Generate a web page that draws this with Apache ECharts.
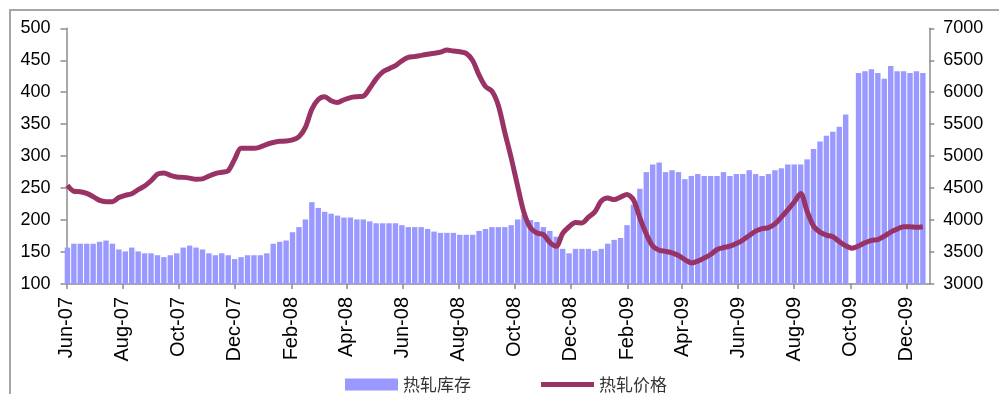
<!DOCTYPE html>
<html>
<head>
<meta charset="utf-8">
<script src="https://cdn.jsdelivr.net/npm/echarts@6/dist/echarts.min.js"></script>
<style>
  html, body { margin: 0; padding: 0; background: #fff; }
  #chart { width: 999px; height: 394px; }
</style>
</head>
<body>
<div id="chart"></div>
<script>
// Weekly hot-rolled steel inventory (left axis) and price (right axis), Jun 2007 - Dec 2009
const firstWeek = Date.UTC(2007, 5, 2);
const DAY = 86400000;

// 热轧库存 (weekly, one gap for the October holiday week)
const stock = [
  157,163,163,163,163,166,168,163,154,151,
  157,151,148,148,145,142,145,148,157,160,
  157,154,148,145,148,145,139,142,145,145,
  145,148,163,166,168,181,189,201,228,219,
  213,210,207,204,204,201,201,198,195,195,
  195,195,192,189,189,189,186,182,180,180,
  180,177,177,177,183,186,189,189,189,192,
  201,208,200,197,189,183,174,155,148,155,
  155,155,152,155,163,169,172,192,224,249,
  275,287,290,275,278,275,264,269,272,269,
  269,269,275,269,272,272,278,272,269,272,
  278,281,287,287,287,295,311,323,332,338,
  346,365,null,430,433,436,430,421,441,433,
  433,430,433,430
];

// 热轧价格 (weekly)
const price = [
  4545,4451,4443,4418,4367,4307,4288,4288,4352,4387,
  4411,4476,4533,4615,4719,4738,4699,4674,4668,4656,
  4639,4644,4689,4728,4749,4773,4951,5122,5122,5122,
  5144,5184,5214,5232,5237,5253,5303,5451,5734,5887,
  5930,5868,5841,5882,5916,5930,5939,6061,6209,6315,
  6368,6417,6492,6546,6560,6576,6594,6610,6627,6659,
  6644,6633,6608,6496,6269,6090,6016,5793,5372,4971,
  4530,4109,3877,3797,3773,3650,3590,3792,3896,3961,
  3956,4045,4129,4298,4345,4320,4359,4401,4317,4035,
  3782,3594,3527,3510,3487,3446,3381,3330,3357,3406,
  3461,3540,3571,3592,3634,3688,3758,3827,3867,3882,
  3941,4046,4159,4283,4416,4139,3906,3812,3765,3738,
  3664,3597,3561,3594,3644,3683,3696,3749,3812,3858,
  3896,3896,3886,3896
];

// Axis tick labels, every second month
const tickLabels = [
  'Jun-07','Aug-07','Oct-07','Dec-07','Feb-08','Apr-08','Jun-08','Aug-08',
  'Oct-08','Dec-08','Feb-09','Apr-09','Jun-09','Aug-09','Oct-09','Dec-09'
];

const MONTHS = {Jan:0,Feb:1,Mar:2,Apr:3,May:4,Jun:5,Jul:6,Aug:7,Sep:8,Oct:9,Nov:10,Dec:11};
const tickValues = tickLabels.map(s => {
  const [m, y] = s.split('-');
  return Date.UTC(2000 + Number(y), MONTHS[m], 1);
});
const labelByValue = new Map(tickValues.map((v, i) => [v, tickLabels[i]]));

const weeks = stock.map((_, i) => firstWeek + i * 7 * DAY);
const stockData = weeks.map((t, i) => [t, stock[i] == null ? '-' : stock[i]]);
const priceData = weeks.map((t, i) => [t, price[i]]);

const axisGray = '#8c8c8c';
const numFont = 'Liberation Sans, Arial, sans-serif';
const lineColor = '#993366';

const chart = echarts.init(document.getElementById('chart'), null, { renderer: 'canvas' });
chart.setOption({
  animation: false,
  backgroundColor: '#ffffff',
  graphic: [{
    type: 'rect',
    shape: { x: 10, y: 10, width: 1000, height: 400 },
    style: { fill: 'none', stroke: '#a6a6a6', lineWidth: 2 },
    silent: true,
    z: 100
  }],
  grid: { left: 66.5, right: 69.7, top: 28.3, bottom: 110, containLabel: false },
  legend: {
    left: 340,
    top: 371,
    itemWidth: 53,
    itemHeight: 12,
    itemGap: 70,
    symbolKeepAspect: true,
    textStyle: { fontSize: 17, color: '#333', fontFamily: 'Noto Sans CJK SC' },
    data: [
      { name: '热轧库存', icon: 'rect' },
      { name: '热轧价格', icon: 'path://M0,0H53V5H0Z', itemStyle: { color: lineColor } }
    ]
  },
  xAxis: {
    type: 'value',
    min: Date.UTC(2007, 5, 1),
    max: Date.UTC(2009, 11, 26),
    axisLine: { show: true, lineStyle: { color: axisGray, width: 1.5 } },
    axisTick: { show: true, customValues: tickValues, length: 5, lineStyle: { color: axisGray, width: 1.5 } },
    axisLabel: {
      customValues: tickValues,
      rotate: 90,
      margin: 13,
      fontSize: 20,
      fontFamily: numFont,
      color: '#000',
      formatter: v => labelByValue.get(v) || ''
    },
    splitLine: { show: false }
  },
  yAxis: [{
    type: 'value',
    min: 100, max: 500, interval: 50,
    axisLine: { show: true, lineStyle: { color: axisGray, width: 1.5 } },
    axisTick: { show: true, length: 6, lineStyle: { color: axisGray, width: 1.5 } },
    axisLabel: { margin: 16, fontSize: 18, fontFamily: numFont, color: '#000' },
    splitLine: { show: false }
  }, {
    type: 'value',
    position: 'right',
    min: 3000, max: 7000, interval: 500,
    axisLine: { show: true, lineStyle: { color: axisGray, width: 1.5 } },
    axisTick: { show: true, length: 5, lineStyle: { color: axisGray, width: 1.5 } },
    axisLabel: { margin: 14, fontSize: 18, fontFamily: numFont, color: '#000', formatter: v => String(v) },
    splitLine: { show: false }
  }],
  series: [{
    name: '热轧库存',
    type: 'bar',
    yAxisIndex: 0,
    barWidth: 5.4,
    itemStyle: { color: '#9999ff' },
    data: stockData
  }, {
    name: '热轧价格',
    type: 'line',
    yAxisIndex: 1,
    symbol: 'none',
    smooth: 0.3,
    lineStyle: { color: lineColor, width: 5 },
    itemStyle: { color: lineColor },
    data: priceData,
    z: 3
  }]
});
</script>
</body>
</html>
